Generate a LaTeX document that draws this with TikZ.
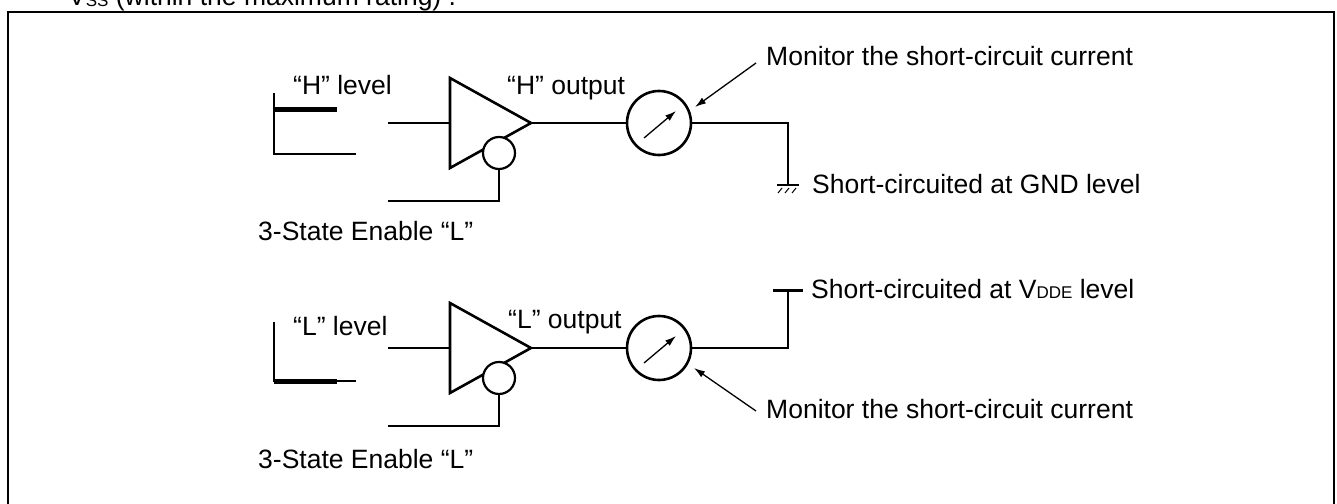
\documentclass[tikz,border=0pt]{standalone}
\usepackage{fontspec}
\setmainfont{Liberation Sans}
\usetikzlibrary{arrows.meta}
\newcommand\lowsub[1]{\raisebox{-0.5pt}{\fontsize{17}{17}\selectfont #1}}
\begin{document}
\begin{tikzpicture}[x=1pt,y=-1pt,
  wire/.style={line width=1.3pt},
  heavy/.style={line width=2.6pt},
  lbl/.style={anchor=base west,inner sep=0pt,font=\fontsize{26.5}{30}\selectfont},
  meter/.style={circle,draw,line width=2.6pt,minimum size=64pt,inner sep=0pt,fill=white},
  bubble/.style={circle,draw,line width=2.2pt,minimum size=32pt,inner sep=0pt,fill=white},
  ptr/.style={line width=1.3pt,-{Latex[length=11pt,width=7pt]}},
  buf/.style={line width=2.6pt,line join=miter}
]
\useasboundingbox (0,0) rectangle (1337,503);
\clip (0,0) rectangle (1337,503);
\fill[white] (0,0) rectangle (1337,503);
% top cut text and frame
\node[lbl] (toptext) at (68,6) {V\lowsub{SS} (within the maximum rating) .};
\draw[line width=2pt] (8,560) -- (8,12) -- (1334,12) -- (1334,560);

% ===== upper circuit =====
\draw[wire] (274,93) -- (274,154) -- (356,154);
\draw[line width=5pt] (274,109) -- (337,109);
\node[lbl] (hlev) at (293,94) {“H” level};
\coordinate (inA) at (388,123);
\coordinate (bufAin) at (450,123);
\coordinate (bufAtip) at (531,123);
\draw[buf] (450,78) -- (bufAtip) -- (450,168) -- cycle;
\node[bubble] (bubA) at (499,153) {};
\draw[wire] (inA) -- (bufAin);
\coordinate (enA) at (388,201);
\draw[wire] (bubA.south) |- (enA);
\node[lbl] (enAtext) at (258,240) {3-State Enable “L”};
\node[lbl] (hout) at (507,94) {“H” output};
\node[meter] (mA) at (659,123) {};
\draw[wire] (bufAtip) -- (mA.west);
\coordinate (mAp1) at (644,138);
\coordinate (mAp2) at (676,111);
\draw[ptr] (mAp1) -- (mAp2);
\coordinate (gA) at (788,185);
\draw[wire] (mA.east) -| (gA);
\draw[line width=2.4pt] (777,185) -- (799,185);
\foreach \hx in {778,785,792} \draw[line width=1pt] (\hx+4,188) -- (\hx,193);
\node[lbl] (gndtext) at (812,193) {Short-circuited at GND level};
\node[lbl] (monA) at (766,66) {Monitor the short-circuit current};
\coordinate (monAfrom) at (756,63);
\coordinate (monAto) at (695,107);
\draw[ptr] (monAfrom) -- (monAto);

% ===== lower circuit =====
\draw[wire] (274,322) -- (274,381) -- (356,381);
\draw[line width=5pt] (274,381) -- (337,381);
\node[lbl] (llev) at (293,335) {“L” level};
\coordinate (inB) at (388,348);
\coordinate (bufBin) at (450,348);
\coordinate (bufBtip) at (531,348);
\draw[buf] (450,303) -- (bufBtip) -- (450,393) -- cycle;
\node[bubble] (bubB) at (499,378) {};
\draw[wire] (inB) -- (bufBin);
\coordinate (enB) at (388,426);
\draw[wire] (bubB.south) |- (enB);
\node[lbl] (enBtext) at (258,468) {3-State Enable “L”};
\node[lbl] (lout) at (508,328) {“L” output};
\node[meter] (mB) at (659,348) {};
\draw[wire] (bufBtip) -- (mB.west);
\coordinate (mBp1) at (644,363);
\coordinate (mBp2) at (676,336);
\draw[ptr] (mBp1) -- (mBp2);
\coordinate (vB) at (788,290);
\draw[wire] (mB.east) -| (vB);
\draw[line width=3pt] (773,290) -- (803,290);
\node[lbl] (vddtext) at (811,298) {Short-circuited at V\lowsub{DDE} level};
\node[lbl] (monB) at (766,418) {Monitor the short-circuit current};
\coordinate (monBfrom) at (756,411);
\coordinate (monBto) at (694,368);
\draw[ptr] (monBfrom) -- (monBto);
\end{tikzpicture}
\end{document}
